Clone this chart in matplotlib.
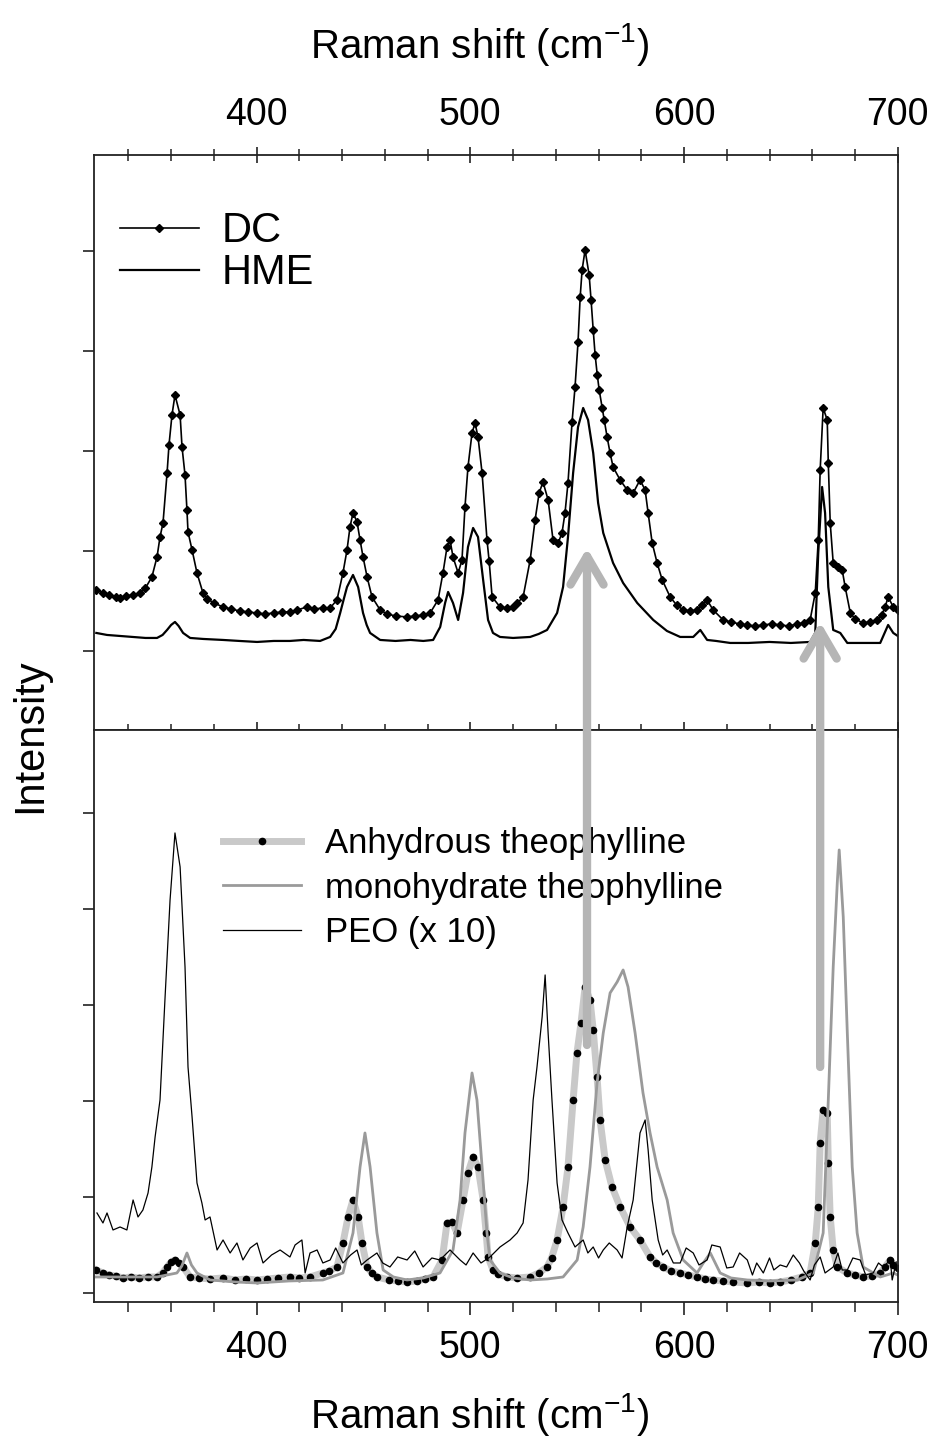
import matplotlib
matplotlib.use('Agg')
import matplotlib.pyplot as plt
from matplotlib.patches import ConnectionPatch

# Fonts
plt.rcParams['font.family'] = ['Liberation Sans', 'DejaVu Sans']
plt.rcParams['mathtext.fontset'] = 'custom'
plt.rcParams['mathtext.rm'] = 'Liberation Sans'
plt.rcParams['mathtext.default'] = 'regular'

# ---- Top panel: tablets (arbitrary intensity units) ----
dc_x = [325, 328, 331, 334, 336.1, 339, 342, 345.4, 348, 351, 353.4, 354.8, 356.2, 358.1, 359, 360.4,
        361.8, 364.2, 365.1, 366.5, 367.4, 367.9, 369.8, 372.1, 374.9, 377, 380, 384.3, 388, 392, 396,
        400.2, 404, 408, 412, 415.6, 419, 423.6, 427, 431, 434.4, 437.6, 440.4, 442.3, 443.7, 445.1,
        447, 448.4, 449.8, 451.7, 454, 457.8, 461, 465, 470.4, 474, 478, 481.2, 484.9, 487.2, 489.1,
        490.5, 491.9, 494.3, 496.1, 497.5, 498.9, 500.8, 502.2, 503.6, 505.5, 507.8, 508.8, 510.2,
        513.9, 517, 520, 522, 524.7, 528, 530.3, 532.2, 534, 536.4, 538.7, 541.1, 542.9, 544.3, 545.7,
        547.6, 549, 550.4, 551.4, 552.3, 553.7, 555.6, 556.5, 557.5, 558.4, 559.4, 560.3, 561.7, 562.6,
        564, 565.4, 566.8, 570.1, 573.4, 576.2, 579.4, 581.8, 583.2, 585.1, 587.4, 589.8, 593.5, 596.5,
        599.6, 603, 606.1, 608.5, 610.8, 613.6, 618.3, 622, 626, 629.6, 633, 637, 641, 645, 649, 653,
        656, 659, 661.4, 662.8, 663.7, 665.1, 667, 667.5, 668.4, 669.8, 672.1, 674, 675.4, 677.8, 680,
        683.8, 687, 690.4, 692.5, 694.1, 695.5, 697.9, 700]
dc_y = [161, 158, 156, 154, 153, 155, 156, 158, 163, 174, 194, 214, 228, 278, 306, 336,
        356, 336, 304, 276, 241, 219, 201, 178, 158, 152, 148, 144, 142, 140, 139,
        138, 137, 138, 139, 139, 141, 144, 142, 143, 143, 151, 178, 201, 224, 238,
        229, 211, 194, 174, 154, 141, 137, 135, 134, 135, 136, 138, 151, 178, 204,
        211, 194, 178, 191, 244, 284, 318, 328, 314, 278, 211, 190, 154,
        144, 143, 144, 148, 154, 191, 231, 258, 269, 251, 211, 208, 218, 238, 268,
        329, 364, 409, 454, 481, 501, 476, 451, 421, 396, 376, 361, 343, 331,
        314, 298, 284, 271, 261, 258, 271, 261, 238, 208, 188, 171, 154, 146,
        141, 140, 141, 146, 151, 141, 131, 129, 127, 126, 125, 126, 127, 126, 125, 127,
        128, 131, 158, 211, 281, 343, 331, 288, 228, 188, 184, 181, 164, 138, 132,
        128, 129, 131, 136, 144, 154, 144, 141]

hme_x = [325, 330, 336, 342, 348, 353.4, 356, 358.1, 360, 361.8, 363.5, 365.6, 368.9, 375, 384.3, 392,
         400.2, 408, 415.6, 422, 429.7, 434.4, 437, 439.1, 440.8, 442.3, 445.1, 447.5, 449.8, 451.5,
         453.1, 457.8, 465, 472, 478, 482.6, 485.9, 488.2, 489.6, 491.9, 494.3, 496.6, 498.9, 501.3,
         503.6, 506, 508.3, 510.6, 513.9, 520, 528, 532, 535.9, 540.6, 543.4, 545.7, 548.1, 550.4,
         552.8, 555.1, 557.5, 559.8, 562.2, 566.8, 571.5, 578.1, 585.6, 592, 598.2, 604.3, 607.6,
         610.8, 615, 621.6, 630, 640, 650, 659, 661.4, 662.8, 664.6, 666, 667.5, 669.8, 673.1, 676.4,
         684, 691.8, 695.5, 697.9, 700]
hme_y = [118, 116, 115, 114, 113, 113, 116, 121, 126, 129, 125, 118, 113, 112, 111, 110,
         109, 110, 110, 111, 110, 114, 122, 138, 152, 164, 176, 164, 138, 126,
         118, 111, 110, 111, 110, 111, 124, 148, 159, 148, 131, 158, 204, 223,
         214, 171, 131, 118, 114, 113, 114, 117, 121, 138, 164, 214, 278, 324,
         343, 331, 298, 248, 218, 188, 168, 148, 131, 120, 114, 114, 121,
         111, 110, 108, 108, 109, 108, 109, 118, 198, 264, 238, 164, 121, 118, 108,
         108, 108, 126, 118, 115]

# ---- Bottom panel: references ----
anh_x = [325, 328, 331, 334, 337.5, 341, 345, 349, 353.4, 356, 358.1, 360, 361.8, 363.5, 365.6, 368.9,
         373, 378, 384.3, 390, 395, 400.2, 405, 410, 415.6, 420, 425, 431, 434, 437.6, 440.4, 442.8,
         445.1, 447.5, 449.3, 451.7, 454, 456.3, 462, 466, 470.4, 475, 479, 482.6, 486.8, 489.1, 491.4,
         493.8, 496.6, 498.9, 501.3, 503.6, 506, 507.4, 508.3, 510.6, 513, 517.2, 522, 528, 532, 535.9,
         538, 540.6, 543.4, 545.7, 548.1, 549.9, 551.8, 553.7, 556, 557.5, 559.3, 560.7, 563.1, 566.3,
         570.1, 574.8, 579.4, 584.1, 587, 590.2, 594, 598.2, 602, 606.1, 610, 613.6, 618, 623, 629.6,
         635, 640, 645, 650, 655, 659, 661.4, 662.8, 663.7, 665.1, 667, 667.5, 668.4, 669.8, 671.7,
         676.4, 680, 683.8, 688, 691.8, 694, 696.5, 698, 700]
anh_y = [23, 20, 18, 17, 15, 16, 15, 16, 16, 20, 26, 31, 33, 30, 26, 16,
         15, 14, 15, 13, 14, 13, 14, 15, 16, 15, 16, 20, 22, 26, 50, 76,
         93, 76, 50, 26, 20, 16, 13, 12, 11, 12, 14, 16, 33, 70, 71,
         60, 93, 120, 136, 126, 93, 60, 36, 23, 19, 16, 15, 16, 20, 26,
         35, 53, 86, 126, 193, 240, 270, 306, 293, 263, 216, 173, 133, 106,
         86, 66, 53, 36, 30, 26, 22, 20, 18, 16, 14, 13, 12, 11, 10,
         11, 10, 11, 13, 16, 20, 50, 86, 150, 183, 180, 130, 76, 43, 26,
         20, 18, 16, 17, 20, 26, 33, 28, 25]

mono_x = [325, 340, 353.4, 358, 362.7, 365, 367.4, 369.5, 372.1, 378.2, 390, 400.2, 415, 431, 440.4, 445.1,
          448.4, 450.7, 453.1, 456.3, 459.2, 464, 470.4, 478, 485.8, 491.9, 495.2, 497.5, 500.8, 503.1,
          505.5, 507.8, 509.2, 513.9, 520, 528, 536, 543.4, 550, 552.8, 556, 559.3, 562.2, 565.4, 568.7,
          571.5, 573.8, 577.1, 580.8, 584.1, 587.4, 592.1, 594.9, 599.6, 606.1, 609, 612.3, 616.9, 622,
          629.6, 640, 653, 660.5, 665.1, 667.5, 669.8, 671.7, 672.6, 674.5, 676.4, 678.7, 681, 683.8,
          691.8, 697.9, 700]
mono_y = [16, 16, 16, 18, 20, 27, 40, 28, 20, 13, 11, 10, 12, 13, 20, 60,
          126, 160, 126, 60, 23, 16, 13, 15, 20, 43, 93, 160, 220, 193,
          126, 60, 33, 20, 15, 13, 14, 16, 33, 66, 126, 210, 260, 300, 311,
          323, 306, 260, 200, 160, 126, 93, 60, 33, 20, 30, 40, 20, 15,
          13, 12, 13, 20, 60, 193, 326, 410, 443, 376, 260, 126, 60, 26,
          16, 20, 18]

peo_x = [325.3, 328.1, 330, 332.8, 336.1, 339.3, 342.2, 344.5, 346.8, 349.2, 351, 352.5, 354.8, 357.1,
         359.5, 361.8, 364.2, 366.5, 367.9, 369.8, 372.1, 374.4, 375.9, 378.2, 381.5, 384.3, 387.6, 390.8,
         393.6, 397, 400.2, 403, 407, 411, 415.6, 418, 421.2, 422.7, 425, 428.3, 431, 434.4, 437, 440.4,
         444, 447, 449, 451.7, 456.3, 459, 462.4, 466, 470.4, 474, 477.9, 482, 485.8, 490.5, 495.2, 498,
         501.3, 505, 509.2, 513.9, 518.6, 521.9, 524.7, 527, 529.4, 531.2, 533.6, 535, 536.4, 538.2,
         540.6, 542.9, 545.7, 549, 552.8, 555, 557.5, 560, 562.2, 565, 568.7, 571, 573.4, 576.2, 579.4,
         581.8, 583.2, 585.1, 587.9, 590, 592.1, 595, 598.2, 601, 604.3, 607, 610.8, 613, 616.9, 620,
         623, 626, 629.6, 632, 634, 637.1, 640, 642, 645, 648, 651.1, 654, 656, 659, 661, 663.7, 666,
         669.8, 672, 674, 676.4, 679, 682.4, 685, 688.5, 691, 693.2, 696.5, 697.4, 699.3]
peo_y = [80, 70, 80, 63, 66, 63, 93, 76, 83, 100, 126, 156, 193, 293,
         393, 460, 426, 326, 226, 176, 110, 90, 73, 76, 43, 53, 40, 50,
         33, 45, 50, 30, 38, 43, 36, 48, 53, 20, 40, 43, 30, 33, 45, 30,
         38, 43, 28, 33, 40, 30, 26, 36, 33, 42, 26, 35, 33, 43, 33, 28,
         40, 30, 36, 46, 53, 60, 70, 113, 193, 226, 276, 318, 260, 193,
         110, 73, 60, 46, 53, 40, 46, 35, 43, 50, 43, 35, 66, 93, 160,
         173, 143, 93, 53, 38, 43, 30, 30, 45, 40, 28, 33, 48, 46, 25,
         26, 40, 33, 18, 30, 20, 35, 23, 28, 26, 38, 30, 22, 13, 28, 36, 20,
         26, 40, 23, 23, 35, 33, 18, 20, 30, 26, 33, 13, 31]

# Arrows: (Raman shift, bottom-panel start, top-panel tip)
arrow_x = [554.6, 663.7]
arrow_start = [248, 226]
arrow_tip = [203, 129]

LABEL_FS = 29
TICK_FS = 27
ARROW_COLOR = '#b5b5b5'
ANH_COLOR = '#c9c9c9'
MONO_COLOR = '#9a9a9a'
AX_COLOR = '#222222'

fig = plt.figure(figsize=(9.28, 14.42), dpi=100)
ax1 = fig.add_axes([0.1015, 0.4938, 0.8659, 0.3987])
ax2 = fig.add_axes([0.1015, 0.0971, 0.8659, 0.3967])

# Top panel
ax1.plot(dc_x, dc_y, color='black', lw=1.2, marker='D', ms=4, label='DC')
ax1.plot(hme_x, hme_y, color='black', lw=1.6, label='HME')
ax1.set_ylim(21, 596)
ax1.set_yticks([100, 200, 300, 400, 500])
ax1.legend(loc='upper left', bbox_to_anchor=(0.032, 0.902), frameon=False, fontsize=30,
           handlelength=1.9, handletextpad=0.55, labelspacing=0.05, borderpad=0, borderaxespad=0)

# Bottom panel
ax2.plot(anh_x, anh_y, color=ANH_COLOR, lw=5, marker='o', ms=4.5, mfc='black', mec='black',
         label='Anhydrous theophylline')
ax2.plot(mono_x, mono_y, color=MONO_COLOR, lw=2, label='monohydrate theophylline')
ax2.plot(peo_x, peo_y, color='black', lw=0.9, label='PEO (x 10)')
ax2.set_ylim(-9, 563)
ax2.set_yticks([0, 96, 192, 288, 384, 480])
ax2.legend(loc='upper left', bbox_to_anchor=(0.16, 0.83), frameon=False, fontsize=25,
           handlelength=2.25, handletextpad=0.7, labelspacing=0.33, borderpad=0, borderaxespad=0)

for ax in (ax1, ax2):
    ax.set_xlim(324, 700)
    ax.set_xticks([400, 500, 600, 700])
    ax.set_xticks(range(340, 700, 20), minor=True)
    ax.set_yticklabels([])
    ax.tick_params(axis='y', direction='out', length=8, width=1.2, colors=AX_COLOR)
    for s in ax.spines.values():
        s.set_linewidth(1.3)
        s.set_color(AX_COLOR)

ax1.tick_params(axis='x', which='both', top=True, bottom=True, labeltop=True, labelbottom=False,
                direction='inout', labelsize=TICK_FS, pad=10, colors=AX_COLOR)
ax1.tick_params(axis='x', which='major', length=12, width=1.2)
ax1.tick_params(axis='x', which='minor', length=9, width=1.1)
ax2.tick_params(axis='x', which='both', top=False, bottom=True, direction='out',
                labelsize=TICK_FS, pad=11, colors=AX_COLOR)
ax2.tick_params(axis='x', which='major', length=9, width=1.2)
ax2.tick_params(axis='x', which='minor', length=7, width=1.1)
for lbl in ax1.get_xticklabels() + ax2.get_xticklabels():
    lbl.set_color('black')

# Gray arrows from reference peaks up into the tablet spectra
for xa, y0, y1 in zip(arrow_x, arrow_start, arrow_tip):
    con = ConnectionPatch(xyA=(xa, y0), coordsA=ax2.transData, xyB=(xa, y1), coordsB=ax1.transData,
                          arrowstyle='->,head_length=1.2,head_width=0.7', mutation_scale=17,
                          color=ARROW_COLOR, lw=6, capstyle='round', joinstyle='round')
    fig.add_artist(con)

# Axis titles
fig.text(0.517, 0.969, 'Raman shift (cm$^{-1}$)', ha='center', va='center', fontsize=LABEL_FS)
fig.text(0.517, 0.019, 'Raman shift (cm$^{-1}$)', ha='center', va='center', fontsize=LABEL_FS)
fig.text(0.032, 0.49, 'Intensity', rotation=90, ha='center', va='center', fontsize=30)

fig.savefig('out.png', dpi=100)
